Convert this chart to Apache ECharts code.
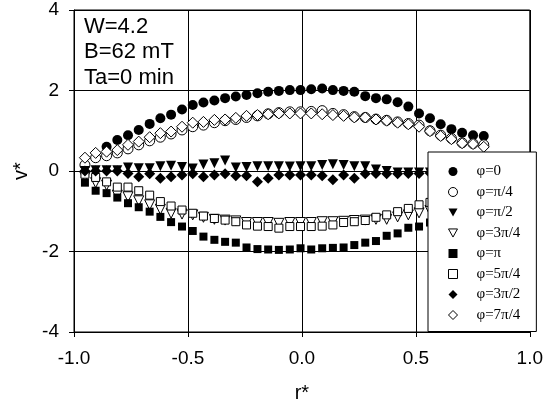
<!DOCTYPE html>
<html>
<head>
<meta charset="utf-8">
<script src="https://cdn.jsdelivr.net/npm/echarts@6/dist/echarts.min.js"></script>
<style>html,body{margin:0;padding:0;background:#fff;}#c{width:546px;height:410px;}</style>
</head>
<body>
<div id="c"></div>
<script>
// r* positions of the measurement points
const rValues = [-0.952,-0.905,-0.857,-0.810,-0.763,-0.716,-0.668,-0.621,-0.574,-0.526,
  -0.479,-0.432,-0.384,-0.337,-0.290,-0.243,-0.195,-0.148,-0.101,-0.053,
  -0.006,0.041,0.089,0.136,0.183,0.230,0.278,0.325,0.372,0.420,
  0.467,0.514,0.562,0.609,0.656,0.703,0.751,0.798];

const phi0 = [null,null,0.60,0.77,0.89,1.02,1.17,1.31,1.40,1.53,1.64,1.70,1.75,1.81,1.85,1.89,1.93,1.97,1.99,2.01,2.01,2.03,2.05,2.01,1.99,1.97,1.86,1.81,1.78,1.71,1.60,1.43,1.31,1.16,1.04,0.95,0.89,0.87];
const phiPi4 = [0.15,0.33,0.38,0.45,0.55,0.65,0.75,0.84,0.92,1.02,1.10,1.14,1.20,1.25,1.28,1.33,1.37,1.42,1.45,1.47,1.47,1.48,1.50,1.43,1.40,1.35,1.33,1.29,1.26,1.22,1.18,1.14,1.00,0.89,0.81,0.70,0.68,0.65];
const phiPi2 = [0.00,0.02,0.02,0.02,0.09,0.07,0.07,0.12,0.13,0.10,0.06,0.16,0.19,0.26,0.09,0.10,0.12,0.12,0.12,0.11,0.12,0.12,0.15,0.17,0.15,0.12,0.12,0.04,0.00,-0.04,-0.04,-0.04,-0.04,-0.03,-0.03,-0.02,-0.02,-0.02];
const phi3Pi4 = [-0.15,-0.29,-0.35,-0.60,-0.64,-0.74,-0.84,-0.95,-1.05,-1.07,-1.09,-1.15,-1.20,-1.22,-1.24,-1.28,-1.28,-1.28,-1.30,-1.28,-1.28,-1.28,-1.26,-1.26,-1.25,-1.23,-1.22,-1.20,-1.20,-1.14,-1.09,-1.04,-0.98,-0.92,-0.86,-0.80,-0.75,-0.70];
const phiPi = [-0.29,-0.49,-0.55,-0.66,-0.80,-0.90,-1.01,-1.14,-1.27,-1.38,-1.49,-1.63,-1.71,-1.76,-1.78,-1.90,-1.94,-1.95,-1.96,-1.95,-1.92,-1.95,-1.92,-1.91,-1.90,-1.84,-1.78,-1.74,-1.61,-1.55,-1.41,-1.38,-1.28,-1.18,-1.08,-0.98,-0.90,-0.82];
const phi5Pi4 = [-0.08,-0.16,-0.27,-0.40,-0.40,-0.49,-0.60,-0.76,-0.87,-0.97,-1.05,-1.12,-1.18,-1.22,-1.26,-1.34,-1.37,-1.38,-1.42,-1.38,-1.38,-1.38,-1.37,-1.34,-1.28,-1.26,-1.23,-1.15,-1.09,-1.01,-0.93,-0.84,-0.78,-0.72,-0.66,-0.60,-0.55,-0.50];
const phi3Pi2 = [0.00,0.00,0.00,0.00,-0.06,-0.14,-0.07,-0.18,-0.14,-0.10,-0.07,-0.14,-0.10,-0.07,-0.12,-0.12,-0.27,-0.18,-0.10,-0.10,-0.10,-0.10,-0.12,-0.22,-0.10,-0.18,-0.07,-0.06,-0.07,-0.07,-0.06,-0.06,-0.05,-0.05,-0.04,-0.04,-0.03,-0.03];
const phi7Pi4 = [0.33,0.45,0.48,0.52,0.65,0.73,0.84,0.94,0.98,1.10,1.20,1.22,1.27,1.28,1.32,1.37,1.39,1.41,1.43,1.43,1.43,1.43,1.41,1.39,1.37,1.33,1.33,1.28,1.25,1.20,1.16,1.10,0.99,0.87,0.79,0.69,0.67,0.60];

const xTicks = {min: -1, max: 1, interval: 0.5};
const yTicks = {min: -4, max: 4, interval: 2};
const annotation = ['W=4.2', 'B=62 mT', 'Ta=0 min'];

function pairs(vals){ return rValues.map((r,i)=>[r, vals[i]]); }
const filled = {color:'#000'};
const hollow = {color:'#fff', borderColor:'#000', borderWidth:1};
const downTri = 'path://M0,0 L10,0 L5,9 Z';

const seriesDefs = [
  {name:'\u03c6=0', data:phi0, symbol:'circle', icon:'circle', size:10, rot:0, style:filled},
  {name:'\u03c6=\u03c0/4', data:phiPi4, symbol:'circle', icon:'circle', size:10, rot:0, style:hollow},
  {name:'\u03c6=\u03c0/2', data:phiPi2, symbol:'triangle', icon:downTri, size:10, rot:180, style:filled},
  {name:'\u03c6=3\u03c0/4', data:phi3Pi4, symbol:'triangle', icon:downTri, size:10, rot:180, style:hollow},
  {name:'\u03c6=\u03c0', data:phiPi, symbol:'rect', icon:'rect', size:8, rot:0, style:filled},
  {name:'\u03c6=5\u03c0/4', data:phi5Pi4, symbol:'rect', icon:'rect', size:8, rot:0, style:hollow},
  {name:'\u03c6=3\u03c0/2', data:phi3Pi2, symbol:'diamond', icon:'diamond', size:11, rot:0, style:filled},
  {name:'\u03c6=7\u03c0/4', data:phi7Pi4, symbol:'diamond', icon:'diamond', size:11, rot:0, style:hollow}
];

const chart = echarts.init(document.getElementById('c'), null, {renderer:'canvas'});
chart.setOption({
  backgroundColor:'#fff',
  animation:false,
  grid:{left:74, top:10, width:458, height:322, show:true, borderColor:'#000', borderWidth:1, backgroundColor:'#fff'},
  xAxis:{type:'value', min:xTicks.min, max:xTicks.max, interval:xTicks.interval,
    name:'r*', nameLocation:'middle', nameGap:51,
    nameTextStyle:{fontFamily:'Liberation Sans', fontSize:20, color:'#000'},
    axisLine:{onZero:false, lineStyle:{color:'#000', width:1}},
    axisTick:{show:true, inside:false, length:5, lineStyle:{color:'#000'}},
    axisLabel:{margin:17, fontFamily:'Liberation Sans', fontSize:19, color:'#000', formatter:v=>v.toFixed(1)},
    splitLine:{show:true, lineStyle:{color:'#000', width:1}}
  },
  yAxis:{type:'value', min:yTicks.min, max:yTicks.max, interval:yTicks.interval,
    name:'v*', nameLocation:'middle', nameGap:42,
    nameTextStyle:{fontFamily:'Liberation Sans', fontSize:20, color:'#000'},
    axisLine:{onZero:false, lineStyle:{color:'#000', width:1}},
    axisTick:{show:true, inside:false, length:5, lineStyle:{color:'#000'}},
    axisLabel:{margin:15, fontFamily:'Liberation Sans', fontSize:19, color:'#000'},
    splitLine:{show:true, lineStyle:{color:'#000', width:1}}
  },
  legend:{
    orient:'vertical', left:428, top:152,
    itemWidth:9, itemHeight:9, itemGap:5.5,
    padding:[12,16,9,20],
    backgroundColor:'#fff', borderColor:'#000', borderWidth:1,
    textStyle:{fontFamily:'Liberation Serif', fontSize:15, lineHeight:15, color:'#000', padding:[0,0,0,14]},
    data: seriesDefs.map(s=>({name:s.name, icon:s.icon, itemStyle:Object.assign({}, s.style)}))
  },
  graphic:[{
    type:'text', left:84, top:14,
    style:{text:annotation.join('\n'), font:'22px "Liberation Sans"', lineHeight:25.5, fill:'#000'}
  }],
  series: seriesDefs.map(s=>({
    type:'scatter', name:s.name, data:pairs(s.data),
    symbol:s.symbol, symbolSize:s.size, symbolRotate:s.rot,
    itemStyle:Object.assign({opacity:1}, s.style),
    emphasis:{disabled:true}
  }))
});
</script>
</body>
</html>
